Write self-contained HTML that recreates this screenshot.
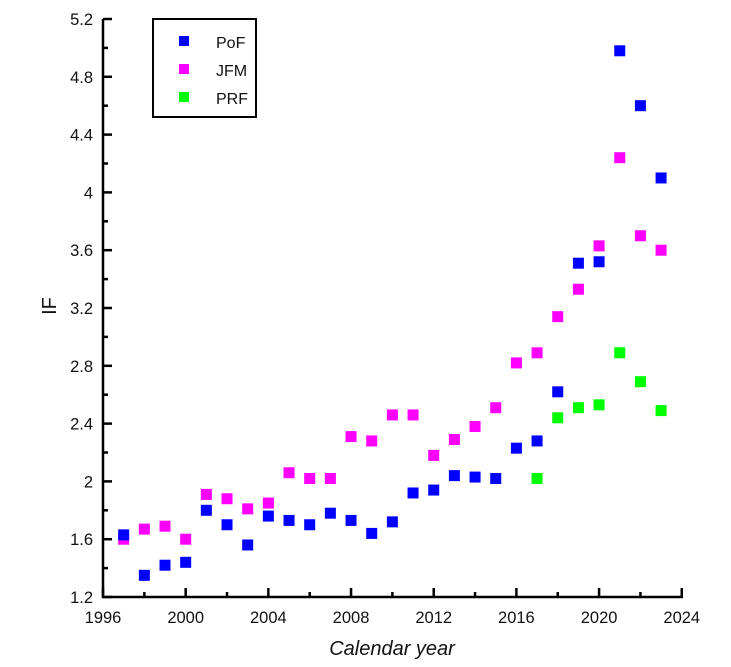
<!DOCTYPE html>
<html><head><style>body{margin:0;background:#fff}svg{display:block}text{font-family:"Liberation Sans",sans-serif;fill:#111}</style></head>
<body>
<svg id="s" width="731" height="667" xmlns="http://www.w3.org/2000/svg">
<g id="ax" stroke="#000" stroke-width="2.5" fill="none">
<path d="M103,19 V597 H683"/>
</g>
<g id="lab" font-size="16.5"></g>
<text x="392" y="655" font-size="20" font-style="italic" text-anchor="middle">Calendar year</text>
<text transform="translate(56,306) rotate(-90)" font-size="20" text-anchor="middle">IF</text>
<rect x="153" y="19" width="103" height="98" fill="#fff" stroke="#000" stroke-width="2"/>
<rect x="179" y="36" width="10" height="10" fill="#0000ff"/>
<rect x="179" y="64" width="10" height="10" fill="#ff00ff"/>
<rect x="179" y="92" width="10" height="10" fill="#00ff00"/>
<text x="216" y="48" font-size="16">PoF</text>
<text x="216" y="76" font-size="16">JFM</text>
<text x="216" y="104" font-size="16">PRF</text>
<g id="pts"></g>
</svg>
<script>
var ns="http://www.w3.org/2000/svg";
function X(y){return 103+(y-1996)*20.67}
function Y(v){return 597-(v-1.2)*144.5}
var ax=document.getElementById('ax'),lab=document.getElementById('lab'),pts=document.getElementById('pts');
function el(p,t,a){var e=document.createElementNS(ns,t);for(var k in a)e.setAttribute(k,a[k]);p.appendChild(e);return e}
for(var yr=1996;yr<=2024;yr+=2){var x=X(yr),maj=(yr%4==0);el(ax,'path',{d:'M'+x+',597 V'+(597-(maj?9:5))});
 if(maj){var t=el(lab,'text',{x:x,y:623,'text-anchor':'middle'});t.textContent=yr;}}
for(var i=0;i<=20;i++){var v=1.2+i*0.2,y=Y(v),maj=(i%2==0);el(ax,'path',{d:'M103,'+y+' H'+(103+(maj?9:5))});
 if(maj){var t=el(lab,'text',{x:93,y:y+6,'text-anchor':'end'});var s=v.toFixed(1);if(s.endsWith('.0'))s=s.slice(0,-2);t.textContent=s;}}
var jfm=[1.60,1.67,1.69,1.60,1.91,1.88,1.81,1.85,2.06,2.02,2.02,2.31,2.28,2.46,2.46,2.18,2.29,2.38,2.51,2.82,2.89,3.14,3.33,3.63,4.24,3.70,3.60];
var pof=[1.63,1.35,1.42,1.44,1.80,1.70,1.56,1.76,1.73,1.70,1.78,1.73,1.64,1.72,1.92,1.94,2.04,2.03,2.02,2.23,2.28,2.62,3.51,3.52,4.98,4.60,4.10];
var prf=[2.02,2.44,2.51,2.53,2.89,2.69,2.49];
function plot(a,start,c){a.forEach(function(v,i){el(pts,'rect',{x:X(start+i)-5.5,y:Y(v)-5.5,width:11,height:11,fill:c})})}
plot(jfm,1997,'#ff00ff');plot(pof,1997,'#0000ff');plot(prf,2017,'#00ff00');
</script>
</body></html>
